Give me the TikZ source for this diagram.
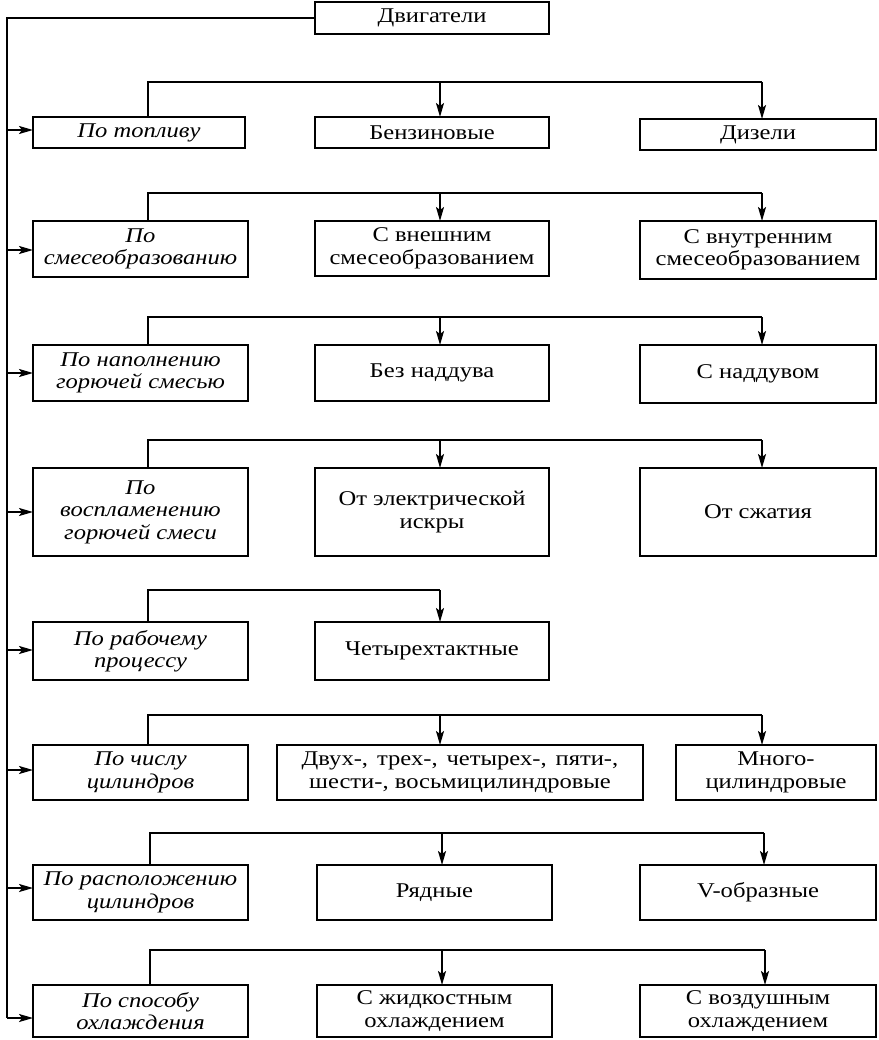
\documentclass[tikz,border=0pt]{standalone}
\usepackage{fontspec}
\setmainfont{Liberation Serif}[FakeStretch=1.17]
\usetikzlibrary{arrows.meta}
\newcommand\bx[7][box]{%
  \node[#1, minimum width={(#5-#3)*1pt}, minimum height={(#6-#4)*1pt}] (#2) at ({(#3+#5)/2},{(#4+#6)/2}) {#7};}
\begin{document}
\begin{tikzpicture}[x=1pt,y=-1pt,
  box/.style={draw, line width=1.8pt, inner sep=0pt, outer sep=0pt, align=center,
    font=\fontsize{21}{22.5}\selectfont},
  ibox/.style={box, font=\fontsize{21}{22.5}\selectfont\itshape},
  ln/.style={line width=1.8pt},
  arr/.style={ln, -{Stealth[length=14pt,width=8pt,inset=3pt]}}]
\useasboundingbox (0,0) rectangle (878,1040);
% top
\bx{top}{315}{2}{549}{34}{Двигатели}
% row 1
\bx[ibox]{l1}{33}{117}{245}{148}{По топливу}
\bx{m1}{315}{117}{549}{148}{Бензиновые}
\bx{r1}{640}{119}{876}{150}{Дизели}
% row 2
\bx[ibox]{l2}{33}{221}{248}{277}{По\\смесеобразованию}
\bx{m2}{315}{221}{549}{276}{С внешним\\смесеобразованием}
\bx{r2}{640}{221}{876}{279}{С внутренним\\смесеобразованием}
% row 3
\bx[ibox]{l3}{33}{345}{248}{401}{По наполнению\\горючей смесью}
\bx{m3}{315}{345}{549}{401}{Без наддува}
\bx{r3}{640}{345}{876}{403}{С наддувом}
% row 4
\bx[ibox]{l4}{33}{468}{248}{556}{По\\воспламенению\\горючей смеси}
\bx{m4}{315}{468}{549}{556}{От электрической\\искры}
\bx{r4}{640}{468}{876}{556}{От сжатия}
% row 5
\bx[ibox]{l5}{33}{622}{248}{680}{По рабочему\\процессу}
\bx{m5}{315}{622}{549}{680}{Четырехтактные}
% row 6
\bx{m6}{277}{745}{643}{800}{\spaceskip=9pt plus 2pt Двух-, трех-, четырех-, пяти-,\\шести-, восьмицилиндровые}
\bx[ibox]{l6}{33}{745}{248}{800}{По числу\\цилиндров}
\bx{r6}{676}{745}{876}{800}{Много-\\цилиндровые}
% row 7
\bx[ibox]{l7}{33}{865}{248}{920}{По расположению\\цилиндров}
\bx{m7}{317}{865}{552}{920}{Рядные}
\bx{r7}{640}{865}{876}{920}{V-образные}
% row 8
\bx[ibox]{l8}{33}{985}{248}{1037}{По способу\\охлаждения}
\bx{m8}{317}{985}{552}{1037}{С жидкостным\\охлаждением}
\bx{r8}{640}{985}{876}{1037}{С воздушным\\охлаждением}
% bus
\coordinate (busend) at (7,1018);
\draw[ln] (top.west) -| (busend);
\foreach \i/\yy in {1/130,2/250,3/373,4/512,5/650,6/770,7/888,8/1018}{
  \draw[arr] (7,\yy) -- (l\i.west |- 0,\yy);
}
% row connectors
\foreach \i/\by/\sx/\ax/\bxx in {1/82/148/440/762,2/193/148/440/762,3/317/148/440/762,4/440/148/440/762,6/715/148/440/762,7/833/150/442/764,8/950/150/442/765}{
  \coordinate (s\i) at (\sx,\by);
  \draw[ln] (l\i.north -| s\i) -- (s\i) -- (\bxx,\by);
  \draw[arr] (\ax,\by) -- (m\i.north -| \ax,0);
  \draw[arr] (\bxx,\by) -- (r\i.north -| \bxx,0);
}
\coordinate (s5) at (148,590);
\draw[ln] (l5.north -| s5) -- (s5) -- (440,590);
\draw[arr] (440,590) -- (m5.north -| 440,0);
\end{tikzpicture}
\end{document}
